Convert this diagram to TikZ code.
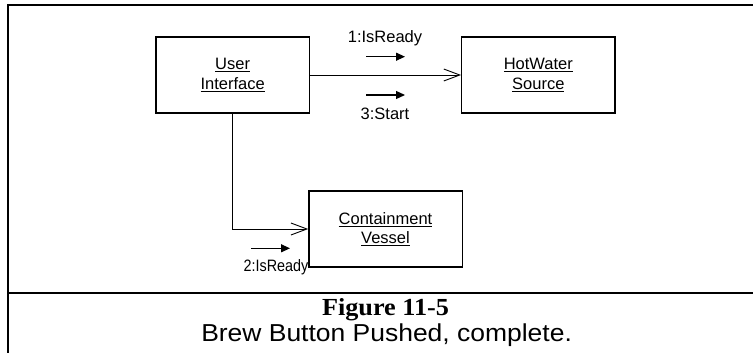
\documentclass[tikz,border=0pt]{standalone}
\usepackage{fontspec}
\setmainfont{Liberation Serif}
\setsansfont{Liberation Sans}
\usetikzlibrary{arrows.meta}
\begin{document}
\begin{tikzpicture}[x=1pt,y=-1pt,
  frameline/.style={line width=2pt,line cap=rect},
  objbox/.style={draw,line width=1.3pt,rectangle,inner sep=0pt,
    minimum width=153.3pt,minimum height=76pt,align=center,
    font=\sffamily\fontsize{16.5}{19.5}\selectfont},
  link/.style={line width=0.9pt,-{Straight Barb[length=16pt,width=12pt,line width=0.9pt]}},
  msg/.style={line width=1.2pt,-{Triangle[length=9pt,width=8pt]}},
  msglabel/.style={anchor=base,inner sep=0pt,font=\sffamily\fontsize{16.5}{19.5}\selectfont},
  captionfig/.style={anchor=base,inner sep=0pt,font=\rmfamily\bfseries\fontsize{24.5}{26}\selectfont},
  captiontext/.style={anchor=base,inner sep=0pt,font=\sffamily\fontsize{24.5}{26}\selectfont}]
\useasboundingbox (0,0) rectangle (753,353);
% frame
\draw[frameline] (7.5,400) -- (7.5,4.7) -- (800,4.7);
\draw[frameline] (7.5,292.7) -- (800,292.7);
% objects
\node[objbox] (ui) at (232.65,75) {\underline{User}\\\underline{Interface}};
\node[objbox] (hw) at (538.35,75) {\underline{HotWater}\\\underline{Source}};
\node[objbox] (cv) at (385.5,229) {\underline{Containment}\\\underline{Vessel}};
% links
\draw[link] (ui.east) -- (hw.west);
\draw[link] (ui.south) |- (cv.west);
% messages
\coordinate (m1s) at (366,56.7);
\coordinate (m1e) at (405,56.7);
\coordinate (m3s) at (366,95);
\coordinate (m3e) at (405,95);
\coordinate (m2s) at (251,248.3);
\coordinate (m2e) at (290,248.3);
\draw[msg] (m1s) -- (m1e);
\draw[msg] (m3s) -- (m3e);
\draw[msg] (m2s) -- (m2e);
\node[msglabel] (l1) at (385,43) {1:IsReady};
\node[msglabel] (l3) at (385,119) {3:Start};
\node[msglabel,anchor=base east,xscale=0.87] (l2) at (308.5,271.5) {2:IsReady};
% caption
\node[captionfig,xscale=1.07] (fig) at (385.5,315) {Figure 11-5};
\node[captiontext,xscale=1.08] (cap) at (386.6,341) {Brew Button Pushed, complete.};
\end{tikzpicture}
\end{document}
